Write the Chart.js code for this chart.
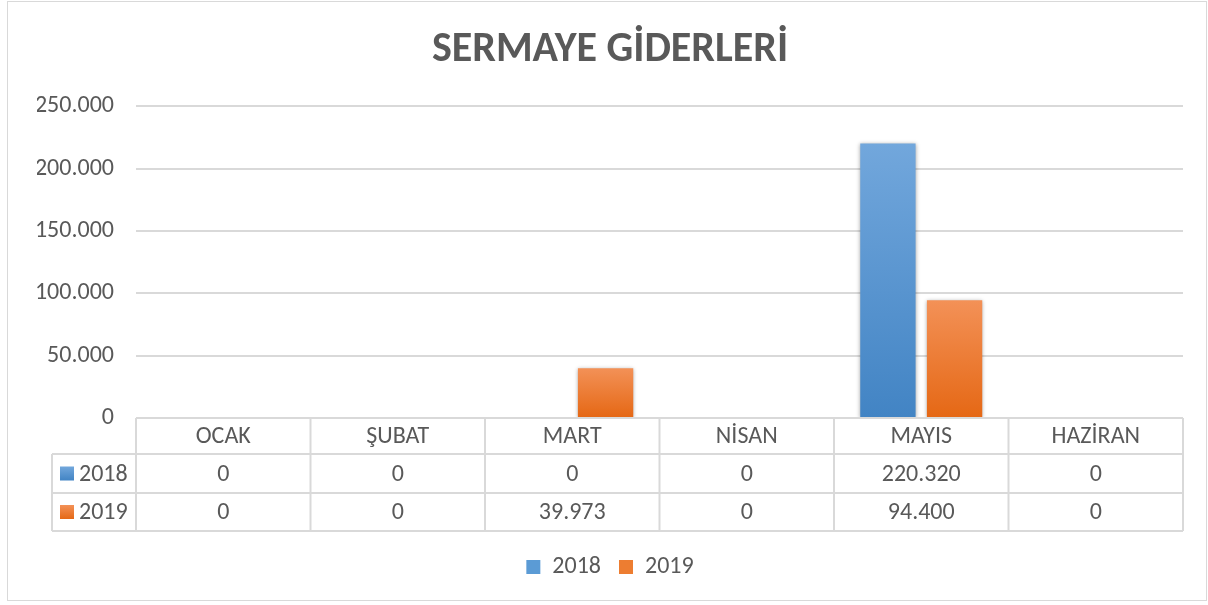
<!DOCTYPE html>
<html>
<head>
<meta charset="utf-8">
<script src="https://cdn.jsdelivr.net/npm/chart.js@4"></script>
<style>
  html, body { margin: 0; padding: 0; background: #fff; }
  #wrap { position: relative; width: 1208px; height: 605px; }
</style>
</head>
<body>
<div id="wrap"><canvas id="sermayeChart" width="1208" height="605"></canvas></div>
<script>
const months = ['OCAK', 'ŞUBAT', 'MART', 'NİSAN', 'MAYIS', 'HAZİRAN'];
const values2018 = [0, 0, 0, 0, 220320, 0];
const values2019 = [0, 0, 39973, 0, 94400, 0];
const seriesLabels = ['2018', '2019'];
const yTicks = [0, 50000, 100000, 150000, 200000, 250000];

const textColor = '#595959';
const lineColor = '#d9d9d9';
const fontFamily = "Calibri, Carlito, 'Open Sans', sans-serif";
const blueTop = '#72a7dc', blueBottom = '#4284c4';
const orangeTop = '#f39157', orangeBottom = '#e56815';

const fmt = v => v.toLocaleString('tr-TR');

// per-bar vertical gradient, like the Excel fill
const gradientBars = {
    id: 'gradientBars',
    beforeDatasetsDraw(chart) {
        const ctx = chart.ctx;
        chart.data.datasets.forEach((ds, i) => {
            const meta = chart.getDatasetMeta(i);
            meta.data.forEach(el => {
                if (Math.abs(el.base - el.y) < 1) return;
                const g = ctx.createLinearGradient(0, el.y, 0, el.base);
                g.addColorStop(0, i === 0 ? blueTop : orangeTop);
                g.addColorStop(1, i === 0 ? blueBottom : orangeBottom);
                el.options.backgroundColor = g;
            });
        });
    },
    beforeDatasetDraw(chart) {
        const ctx = chart.ctx;
        ctx.save();
        ctx.shadowColor = 'rgba(0,0,0,0.35)';
        ctx.shadowBlur = 4;
        ctx.shadowOffsetY = 1;
    },
    afterDatasetDraw(chart) {
        chart.ctx.restore();
    }
};

// data table under the plot + outer frame
const dataTable = {
    id: 'dataTable',
    beforeDraw(chart) {
        const ctx = chart.ctx;
        ctx.save();
        ctx.strokeStyle = lineColor;
        ctx.lineWidth = 1;
        ctx.strokeRect(7.5, 1.5, 1199, 599);
        ctx.restore();
    },
    afterDraw(chart) {
        const ctx = chart.ctx;
        const area = chart.chartArea;
        const n = months.length;
        const w = (area.right - area.left) / n;
        const top = area.bottom;
        const rowY = [top, top + 36, top + 75, top + 113];
        const labelLeft = 52;

        ctx.save();
        ctx.strokeStyle = lineColor;
        ctx.lineWidth = 2;
        ctx.beginPath();
        // horizontal lines
        ctx.moveTo(area.left, rowY[0]); ctx.lineTo(area.right, rowY[0]);
        for (let r = 1; r < rowY.length; r++) {
            ctx.moveTo(labelLeft, rowY[r]); ctx.lineTo(area.right, rowY[r]);
        }
        // vertical lines
        for (let c = 0; c <= n; c++) {
            const x = area.left + c * w;
            ctx.moveTo(x, rowY[0]); ctx.lineTo(x, rowY[3]);
        }
        ctx.moveTo(labelLeft, rowY[1]); ctx.lineTo(labelLeft, rowY[3]);
        ctx.stroke();

        ctx.fillStyle = textColor;
        ctx.font = '24px ' + fontFamily;
        ctx.textAlign = 'center';
        ctx.textBaseline = 'middle';
        const xs = chart.scales.x;
        months.forEach((m, i) => {
            const cx = xs.getPixelForValue(i);
            ctx.fillText(m, cx, (rowY[0] + rowY[1]) / 2 + 1);
            ctx.fillText(fmt(values2018[i]), cx, (rowY[1] + rowY[2]) / 2 + 1);
            ctx.fillText(fmt(values2019[i]), cx, (rowY[2] + rowY[3]) / 2 + 1);
        });

        // row labels with key squares
        [[blueTop, blueBottom], [orangeTop, orangeBottom]].forEach((cols, r) => {
            const cy = (rowY[r + 1] + rowY[r + 2]) / 2;
            const g = ctx.createLinearGradient(0, cy - 7, 0, cy + 7);
            g.addColorStop(0, cols[0]);
            g.addColorStop(1, cols[1]);
            ctx.fillStyle = g;
            ctx.fillRect(60, cy - 7, 14, 14);
            ctx.fillStyle = textColor;
            ctx.textAlign = 'left';
            ctx.fillText(seriesLabels[r], 79, cy + 1);
        });
        ctx.restore();
    }
};

const ctx = document.getElementById('sermayeChart').getContext('2d');
new Chart(ctx, {
    type: 'bar',
    data: {
        labels: months,
        datasets: [{
            label: seriesLabels[0],
            data: values2018,
            backgroundColor: () => '#5b9bd5',
            categoryPercentage: 0.764,
            barPercentage: 0.83
        }, {
            label: seriesLabels[1],
            data: values2019,
            backgroundColor: () => '#ed7d31',
            categoryPercentage: 0.764,
            barPercentage: 0.83
        }]
    },
    options: {
        responsive: false,
        animation: false,
        layout: { padding: { left: 37, right: 25, top: 0, bottom: 16 } },
        plugins: {
            title: {
                display: true,
                text: 'SERMAYE GİDERLERİ',
                color: textColor,
                font: { family: fontFamily, size: 42, weight: 'bold' },
                padding: { top: 25, bottom: 31 }
            },
            legend: {
                position: 'bottom',
                labels: {
                    color: textColor,
                    boxWidth: 14,
                    boxHeight: 14,
                    padding: 18,
                    font: { family: fontFamily, size: 24 }
                }
            },
            tooltip: { enabled: false }
        },
        scales: {
            y: {
                min: 0,
                max: 250000,
                afterFit: s => { s.width = 99; },
                afterBuildTicks: s => { s.ticks = yTicks.map(v => ({ value: v })); },
                ticks: {
                    color: textColor,
                    padding: 22,
                    font: { family: fontFamily, size: 24 },
                    callback: v => fmt(v)
                },
                grid: { color: lineColor, lineWidth: 2, drawTicks: false },
                border: { display: false }
            },
            x: {
                afterFit: s => { s.height = 119; },
                ticks: { display: false },
                grid: { display: false },
                border: { display: false }
            }
        }
    },
    plugins: [gradientBars, dataTable]
});
</script>
</body>
</html>
